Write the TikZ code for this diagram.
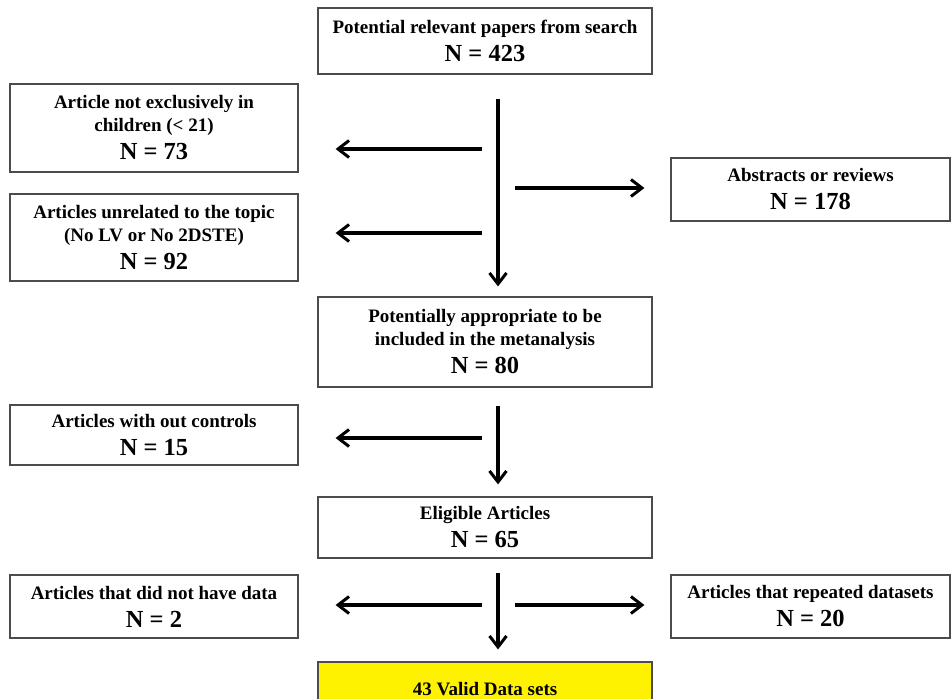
\documentclass[tikz,border=0pt]{standalone}
\usepackage{fontspec}
\setmainfont{Liberation Serif}
\usetikzlibrary{positioning,calc,arrows.meta}
\newcommand{\cnt}[1]{{\fontsize{24.5}{28}\selectfont #1}}

\begin{document}
\begin{tikzpicture}[x=1pt,y=-1pt,
 box/.style={draw=black!70,line width=1.2pt,align=center,inner sep=1pt,
  font=\fontsize{19}{23}\selectfont\bfseries},
 ar/.style={-{Straight Barb[length=11pt,width=17pt,line width=3pt]},line width=3.3pt}]
\clip (0,0) rectangle (952,698);
\useasboundingbox (0,0) rectangle (952,698);
\fill[white] (0,0) rectangle (952,698);
% main column
\node[box,minimum width=334pt,minimum height=66pt] (top) at (485,41)
 {Potential relevant papers from search\\[5pt] \cnt{N = 423}};
\node[box,minimum width=334pt,minimum height=90pt] (pot) at (485,342)
 {Potentially appropriate to be\\ included in the metanalysis\\[5pt] \cnt{N = 80}};
\node[box,minimum width=334pt,minimum height=61pt] (elig) at (485,527.5)
 {Eligible Articles\\[5pt] \cnt{N = 65}};
\node[box,minimum width=334pt,minimum height=54pt,fill=yellow] (valid) at (485,689)
 {43 Valid Data sets};
% excluded, left side
\node[box,minimum width=288pt,minimum height=88pt] (excl) at (154,128)
 {Article not exclusively in\\ children (< 21)\\[5pt] \cnt{N = 73}};
\node[box,minimum width=288pt,minimum height=87pt] (unrel) at (154,237.5)
 {Articles unrelated to the topic\\ (No LV or No 2DSTE)\\[5pt] \cnt{N = 92}};
\node[box,minimum width=288pt,minimum height=60pt] (noctl) at (154,435)
 {Articles with out controls\\[5pt] \cnt{N = 15}};
\node[box,minimum width=288pt,minimum height=63pt] (nodat) at (154,606.5)
 {Articles that did not have data\\[5pt] \cnt{N = 2}};
% excluded, right side
\node[box,minimum width=279pt,minimum height=63pt] (abst) at (810.5,189.5)
 {Abstracts or reviews\\[5pt] \cnt{N = 178}};
\node[box,minimum width=279pt,minimum height=63pt] (rept) at (810.5,606.5)
 {Articles that repeated datasets\\[5pt] \cnt{N = 20}};
% arrow starts on the spine
\coordinate (s1) at (482,149);
\coordinate (s2) at (515,188);
\coordinate (s3) at (482,233);
\coordinate (s4) at (482,438);
\coordinate (s5) at (482,605);
\coordinate (s6) at (515,605);
\draw[ar,shorten <=24pt,shorten >=10pt] ([xshift=13pt]top.south) -- ([xshift=13pt]pot.north);
\draw[ar,shorten <=18pt,shorten >=12pt] ([xshift=13pt]pot.south) -- ([xshift=13pt]elig.north);
\draw[ar,shorten <=14pt,shorten >=12pt] ([xshift=13pt]elig.south) -- ([xshift=13pt]valid.north);
\foreach \s/\b in {s1/excl,s3/unrel,s4/noctl,s5/nodat}
 \draw[ar,shorten >=37pt] (\s) -- (\s -| \b.east);
\foreach \s/\b in {s2/abst,s6/rept}
 \draw[ar,shorten >=26pt] (\s) -- (\s -| \b.west);
\end{tikzpicture}
\end{document}
